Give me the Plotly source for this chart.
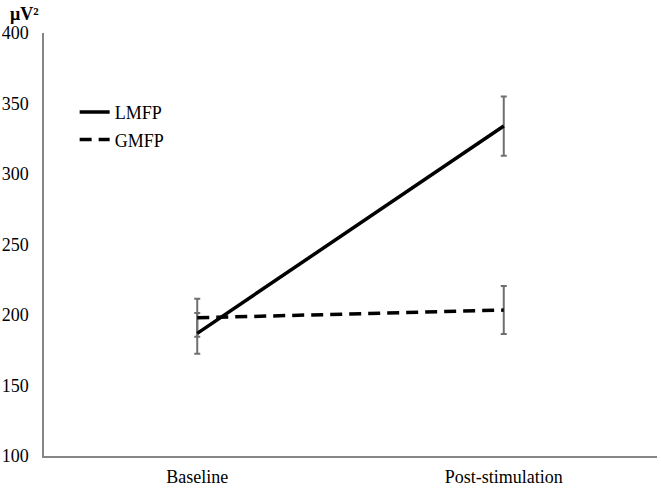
import plotly.graph_objects as go

conditions = ["Baseline", "Post-stimulation"]
lmfp = [187, 334]
lmfp_err = [14.5, 21]
gmfp = [198, 203.5]
gmfp_err = [13.5, 17]

FONT = "Liberation Serif, Times New Roman, serif"
ERR_COLOR = "#6f6f6f"
AXIS_COLOR = "#868686"

fig = go.Figure()

# error bars first so the lines sit on top of them
for vals, errs in [(lmfp, lmfp_err), (gmfp, gmfp_err)]:
    fig.add_trace(go.Scatter(
        x=conditions, y=vals, mode="markers",
        marker=dict(size=0.1, opacity=0),
        error_y=dict(type="data", array=errs, visible=True,
                     color=ERR_COLOR, thickness=2, width=3),
        showlegend=False, hoverinfo="skip"
    ))

fig.add_trace(go.Scatter(
    x=conditions, y=lmfp, mode="lines", name="LMFP", legendgroup="a",
    line=dict(color="black", width=3.5)
))
fig.add_trace(go.Scatter(
    x=conditions, y=gmfp, mode="lines", name="GMFP", legendgroup="b",
    line=dict(color="black", width=3.5, dash="12px,7px")
))

fig.update_layout(
    width=661, height=488,
    paper_bgcolor="white", plot_bgcolor="white",
    font=dict(family=FONT, size=18, color="black"),
    margin=dict(l=44, r=4, t=33, b=32),
    showlegend=True,
    legend=dict(x=0.05, y=0.856, xanchor="left", yanchor="top",
                bgcolor="rgba(0,0,0,0)", font=dict(size=18),
                tracegroupgap=1, itemwidth=30),
    xaxis=dict(
        type="category", range=[-0.5, 1.5], automargin=False,
        showline=True, linecolor=AXIS_COLOR, linewidth=1.5,
        showgrid=False, ticks="", ticklabelstandoff=4
    ),
    yaxis=dict(
        range=[100, 400], dtick=50, tick0=100, automargin=False,
        showline=True, linecolor=AXIS_COLOR, linewidth=1.5,
        showgrid=False, zeroline=False, ticks="", ticklabelstandoff=10
    ),
    annotations=[dict(
        text="<b>μV²</b>", xref="paper", yref="paper",
        x=-0.058, y=1.0, xanchor="left", yanchor="bottom",
        yshift=7, showarrow=False, font=dict(size=18)
    )]
)

fig.write_html("out.html", config={"displayModeBar": False},
               post_script="document.body.style.margin='0';")
